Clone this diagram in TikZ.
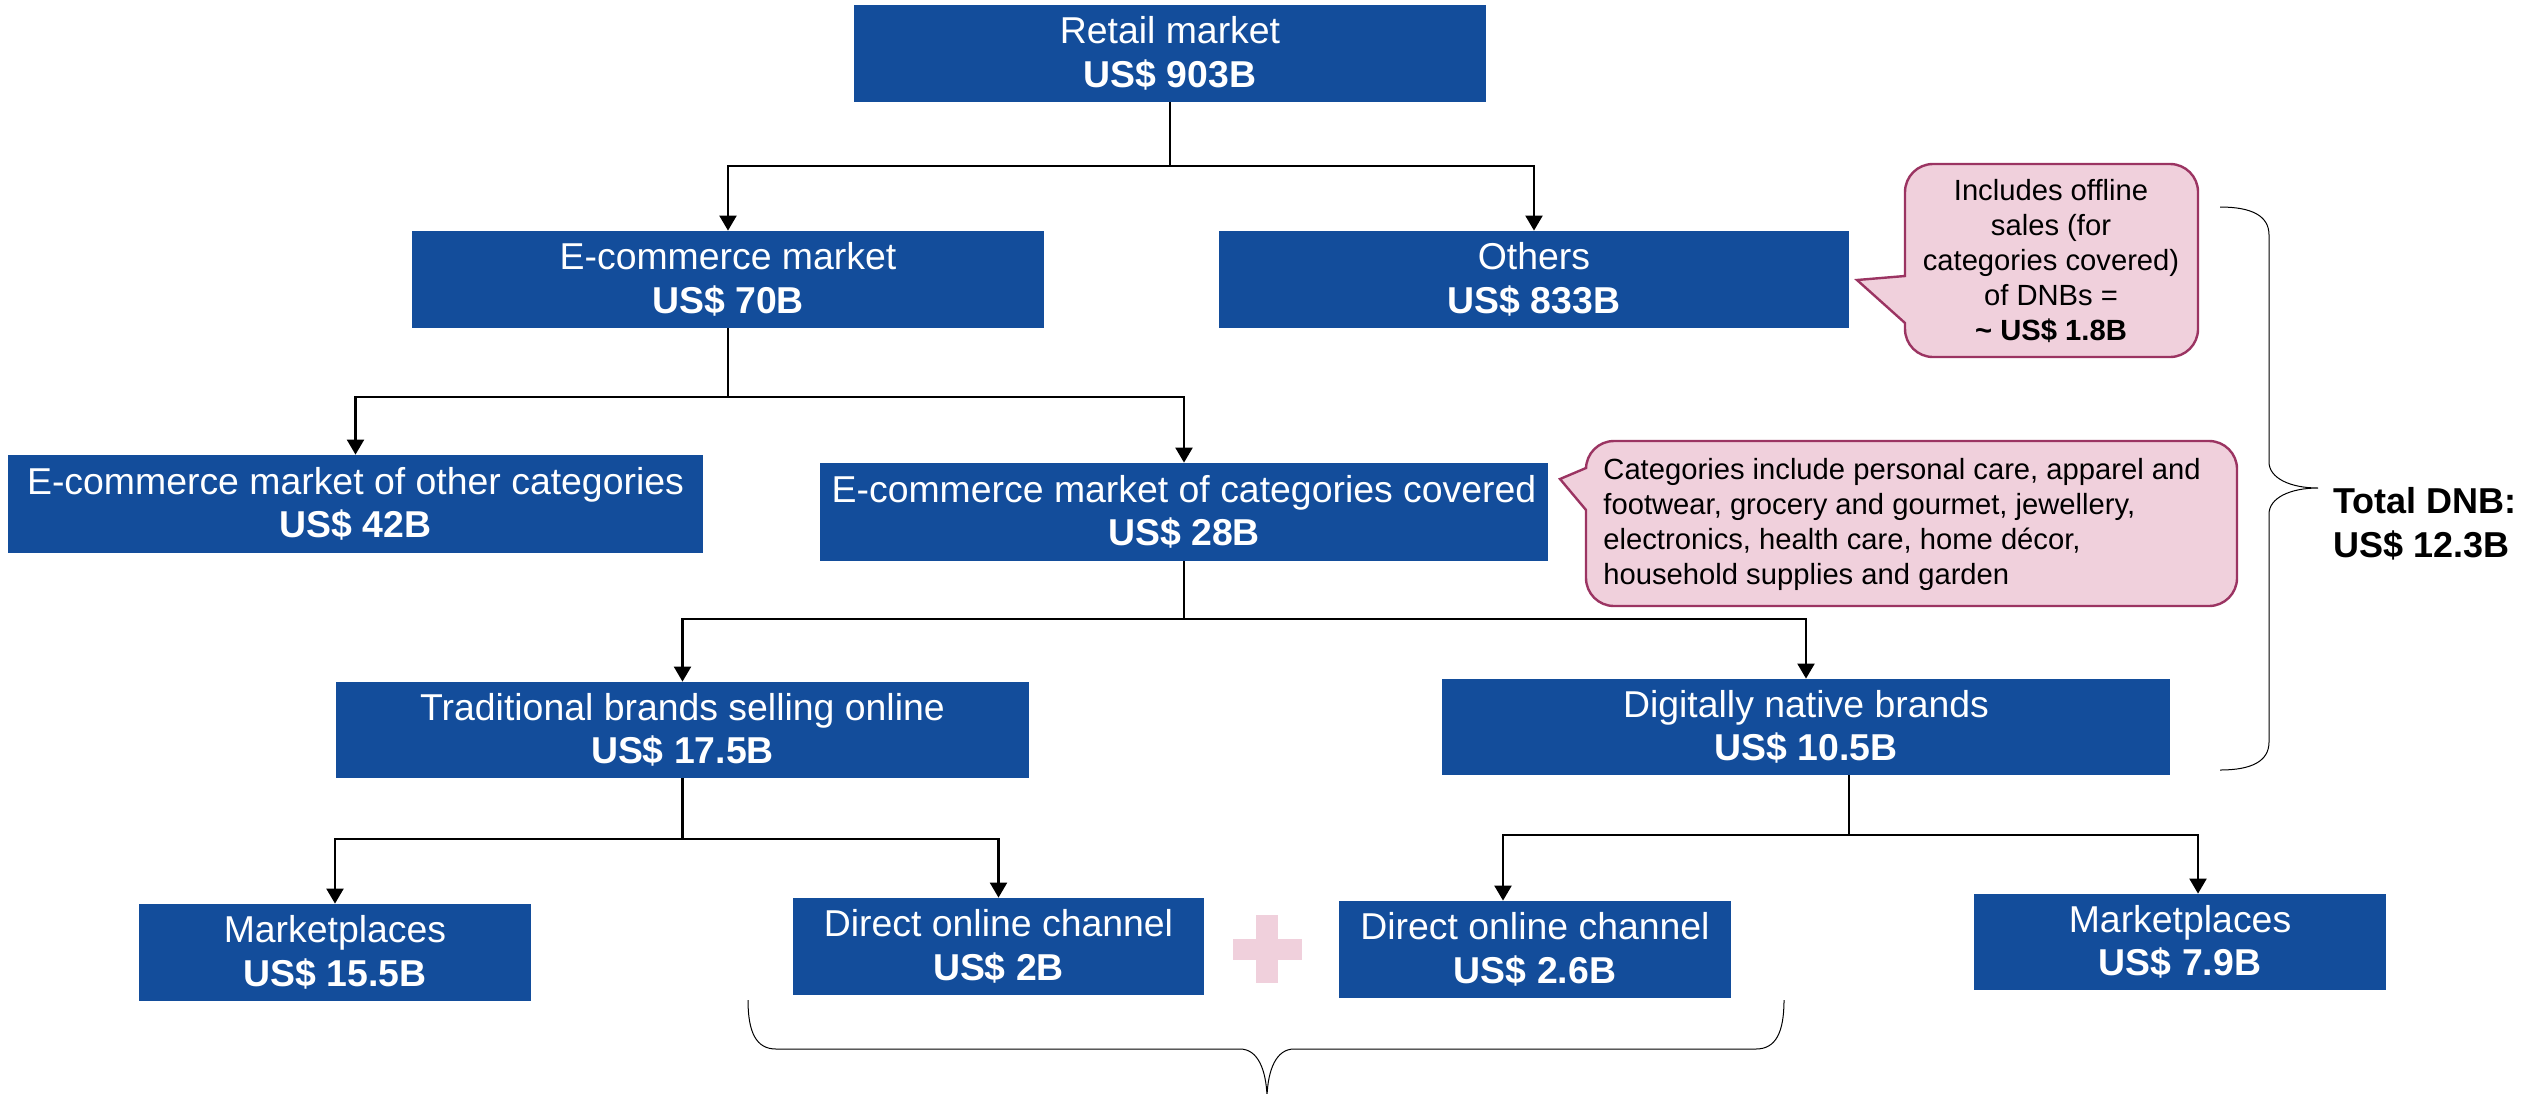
\documentclass[tikz,border=0pt]{standalone}
\usepackage{fontspec}
\setmainfont{Liberation Sans}
\usetikzlibrary{arrows.meta}
\definecolor{boxblue}{RGB}{19,77,155}
\definecolor{notefill}{RGB}{240,208,220}
\definecolor{noteline}{RGB}{155,52,98}
\begin{document}
\begin{tikzpicture}[x=0.5pt,y=-0.5pt,
  box/.style={fill=boxblue, text=white, inner sep=0pt, align=center,
    font=\fontsize{18.7}{21.8}\selectfont},
  link/.style={line width=1.1pt},
  arr/.style={link, -{Triangle[length=7.5pt,width=8.5pt]}},
  note/.style={fill=notefill, draw=noteline, line width=1.2pt},
  notetext/.style={inner sep=0pt, font=\fontsize{14.6}{17.5}\selectfont},
  brace/.style={line width=0.5pt}]
\useasboundingbox (0,0) rectangle (2521,1093);

% ---- market boxes ----
\node[box, minimum width=316pt, minimum height=48.5pt] (retail) at (1170,53.5) {Retail market\\\textbf{US\$ 903B}};
\node[box, minimum width=316pt, minimum height=48.5pt] (ecom) at (728,279.5) {E-commerce market\\\textbf{US\$ 70B}};
\node[box, minimum width=315pt, minimum height=48.5pt] (others) at (1534,279.5) {Others\\\textbf{US\$ 833B}};
\node[box, minimum width=347.5pt, minimum height=49pt] (othercat) at (355.5,504) {E-commerce market of other categories\\\textbf{US\$ 42B}};
\node[box, minimum width=364pt, minimum height=49pt] (covered) at (1184,512) {E-commerce market of categories covered\\\textbf{US\$ 28B}};
\node[box, minimum width=346.5pt, minimum height=48pt] (trad) at (682.5,730) {Traditional brands selling online\\\textbf{US\$ 17.5B}};
\node[box, minimum width=364pt, minimum height=48pt] (digital) at (1806,727) {Digitally native brands\\\textbf{US\$ 10.5B}};
\node[box, minimum width=196pt, minimum height=48.5pt] (mktL) at (335,952.5) {Marketplaces\\\textbf{US\$ 15.5B}};
\node[box, minimum width=205.5pt, minimum height=48.5pt] (direct1) at (998.5,946.5) {Direct online channel\\\textbf{US\$ 2B}};
\node[box, minimum width=196pt, minimum height=48.5pt] (direct2) at (1535,949.5) {Direct online channel\\\textbf{US\$ 2.6B}};
\node[box, minimum width=206pt, minimum height=48pt] (mktR) at (2180,942) {Marketplaces\\\textbf{US\$ 7.9B}};

% ---- tree connectors ----
\draw[link] (retail.south) -- (retail.south |- 0,166) coordinate (j1);
\draw[arr] (j1) -| (ecom.north);
\draw[arr] (j1) -| (others.north);

\draw[link] (ecom.south) -- (ecom.south |- 0,397) coordinate (j2);
\draw[arr] (j2) -| (othercat.north);
\draw[arr] (j2) -| (covered.north);

\draw[link] (covered.south) -- (covered.south |- 0,619) coordinate (j3);
\draw[arr] (j3) -| (trad.north);
\draw[arr] (j3) -| (digital.north);

\draw[link] (trad.south) -- (trad.south |- 0,839) coordinate (j4);
\draw[arr] (j4) -| (mktL.north);
\draw[arr] (j4) -| (direct1.north);

\draw[link] ([xshift=21.5pt]digital.south) -- ([xshift=21.5pt]digital.south |- 0,835) coordinate (j5);
\draw[arr] (j5) -| ([xshift=-16pt]direct2.north);
\draw[arr] (j5) -| ([xshift=9pt]mktR.north);

% ---- plus sign between the direct channels ----
\fill[notefill] (1256,915) rectangle (1278,983);
\fill[notefill] (1233,939) rectangle (1302,960);

% ---- callout: offline sales ----
\draw[note] (1905,276) -- (1857,280) -- (1905,323) [rounded corners=14pt] -- (1905,357) -- (2198,357) -- (2198,164) -- (1905,164) [sharp corners] -- cycle;
\node[notetext, align=center] (note1) at (2051,261) {Includes offline\\sales (for\\categories covered)\\of DNBs =\\\textbf{\textasciitilde{} US\$ 1.8B}};

% ---- callout: categories ----
\draw[note] (1586,468) -- (1560,479) -- (1586,510) [rounded corners=14pt] -- (1586,606) -- (2237,606) -- (2237,441) -- (1586,441) [sharp corners] -- cycle;
\node[notetext, anchor=west, align=left] (note2) at (1603,524) {Categories include personal care, apparel and\\footwear, grocery and gourmet, jewellery,\\electronics, health care, home décor,\\household supplies and garden};

% ---- brace and total for digitally native brands ----
\draw[brace] (2220,207) .. controls (2252,207) and (2269,216) .. (2269,235) -- (2269,462)
  .. controls (2269,478) and (2290,488) .. (2318,488)
  .. controls (2290,488) and (2269,498) .. (2269,514) -- (2269,742)
  .. controls (2269,761) and (2252,770) .. (2220,770);
\node[inner sep=0pt, anchor=west, align=left, font=\fontsize{18}{21.8}\selectfont\bfseries] (total) at (2333,524) {Total DNB:\\US\$ 12.3B};

% ---- brace under the direct channels ----
\draw[brace] (748,1000) .. controls (748,1032) and (756,1049) .. (776,1049) -- (1240,1049)
  .. controls (1258,1049) and (1266,1070) .. (1267,1096)
  .. controls (1268,1070) and (1276,1049) .. (1294,1049) -- (1756,1049)
  .. controls (1776,1049) and (1784,1032) .. (1784,1000);
\end{tikzpicture}
\end{document}
